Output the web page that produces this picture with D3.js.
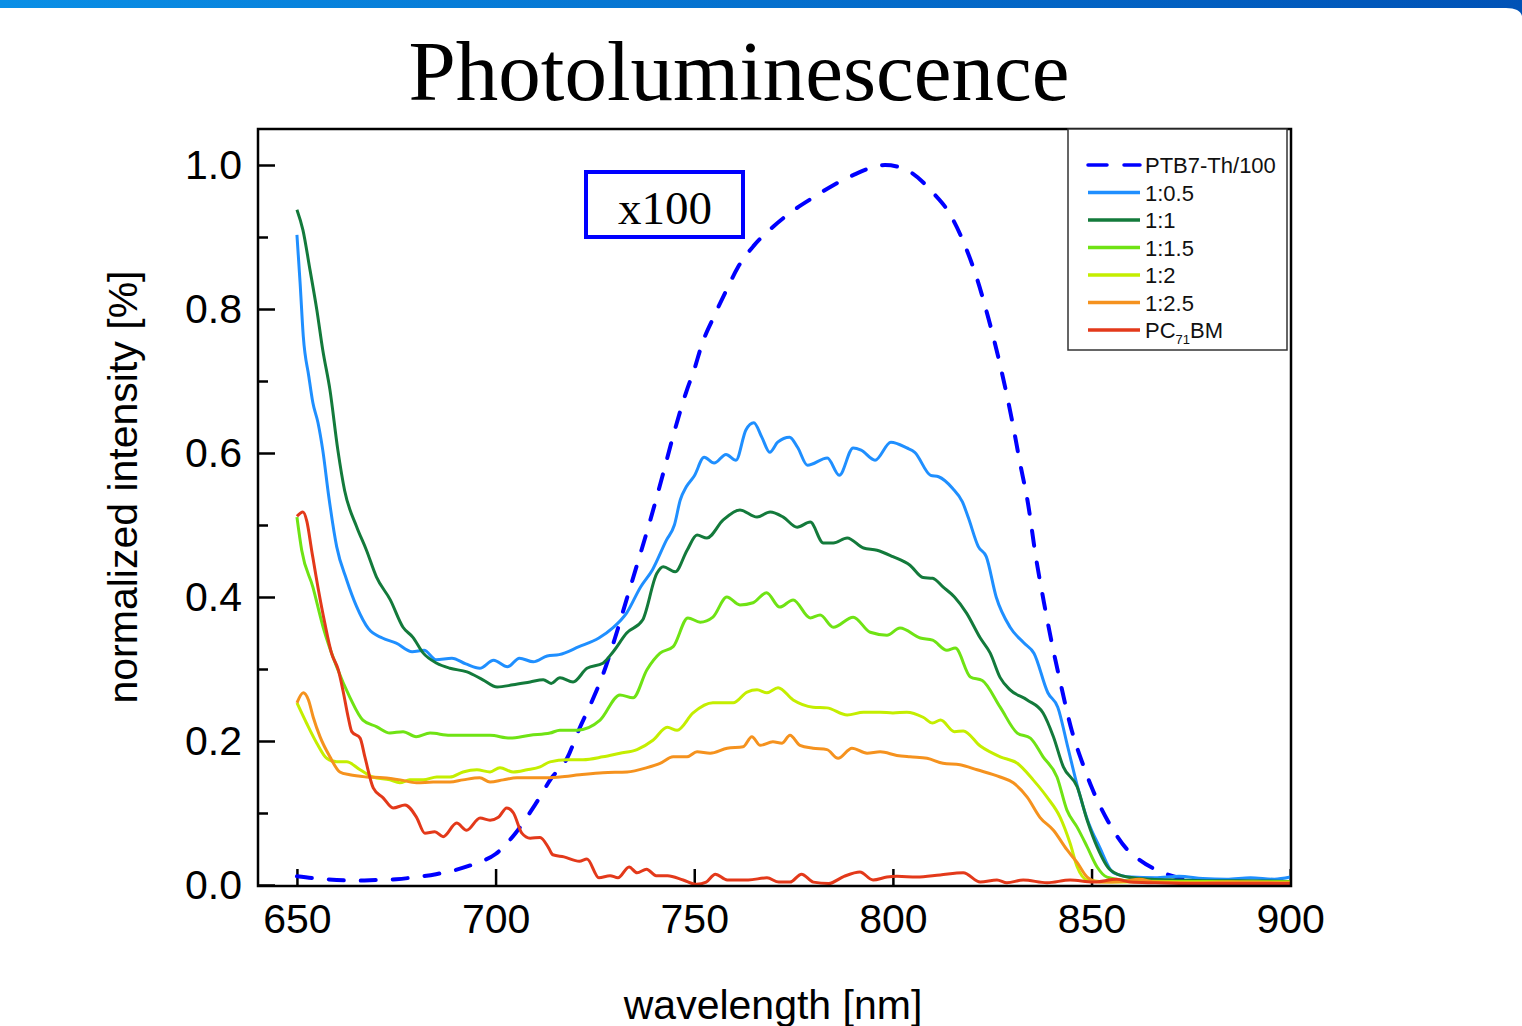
<!DOCTYPE html>
<html>
<head>
<meta charset="utf-8">
<title>Photoluminescence</title>
<style>
    html, body {margin: 0; padding: 0; background: #fff; overflow: hidden;}
    svg {display: block;}
</style>
</head>
<body>
<div id="chart"></div>
<script src="https://cdn.jsdelivr.net/npm/d3@7"></script>
<script>
// series: [wavelength nm, normalized intensity]
var ptb7 = [[650,0.012],[655,0.009],[660,0.007],[665,0.006],[670,0.007],[675,0.008],[680,0.011],[685,0.015],[690,0.021],[695,0.030],[700,0.043],[705,0.072],[710,0.112],[714,0.148],[718,0.176],[721,0.216],[724,0.252],[727,0.292],[730,0.342],[733,0.397],[736,0.452],[739,0.508],[742,0.568],[745,0.630],[748,0.685],[750,0.716],[752,0.752],[755,0.790],[758,0.825],[761,0.858],[765,0.888],[770,0.915],[775,0.937],[780,0.955],[785,0.972],[790,0.986],[795,0.997],[798,1.0],[801,0.998],[805,0.988],[810,0.962],[814,0.935],[818,0.890],[821,0.845],[824,0.788],[827,0.722],[830,0.645],[832,0.586],[834,0.530],[836,0.455],[838,0.393],[840,0.336],[842,0.285],[845,0.215],[848,0.165],[850,0.136],[854,0.090],[859,0.049],[862,0.035],[868,0.017],[875,0.007],[880,0.004],[890,0.002],[900,0.002]];

var r05 = [[650,0.903],[650.8,0.836],[651.6,0.762],[653,0.706],[654,0.670],[655.3,0.642],[656.5,0.604],[658,0.540],[660,0.470],[662.5,0.424],[665,0.387],[668,0.356],[671.5,0.343],[675,0.336],[679,0.324],[682,0.326],[685,0.313],[689,0.315],[692.5,0.307],[696,0.301],[699.5,0.312],[703,0.303],[706,0.315],[709.5,0.310],[713,0.318],[716,0.320],[721,0.331],[726,0.343],[729.5,0.357],[733,0.378],[736.5,0.414],[739.5,0.438],[743,0.479],[745,0.500],[746.5,0.535],[748,0.553],[750,0.568],[752.5,0.594],[755,0.586],[758,0.598],[760.5,0.590],[763,0.632],[765,0.642],[767,0.622],[769,0.601],[771,0.615],[774,0.622],[776,0.608],[778.5,0.583],[783.5,0.593],[786.5,0.569],[790,0.607],[792,0.604],[795.5,0.590],[799.5,0.615],[803.5,0.607],[805.5,0.601],[809.5,0.569],[811.5,0.567],[815,0.551],[817.5,0.532],[819,0.510],[821.5,0.470],[823.5,0.456],[826,0.400],[829.5,0.358],[833,0.336],[835.5,0.322],[839,0.267],[841.5,0.247],[844,0.192],[846.5,0.136],[849,0.090],[852,0.053],[855.5,0.017],[860,0.011],[866,0.010],[872,0.012],[878,0.009],[884,0.008],[890,0.010],[896,0.008],[900,0.011]];

var r1 = [[650,0.938],[651.5,0.910],[653.3,0.854],[655,0.799],[656.5,0.743],[658.3,0.688],[660.3,0.604],[662,0.548],[665,0.498],[667.5,0.465],[670,0.428],[673.5,0.396],[676.7,0.358],[679.2,0.344],[681.8,0.322],[685.2,0.308],[688.5,0.301],[692.8,0.296],[696.8,0.285],[700.4,0.275],[704.4,0.278],[708.7,0.282],[712,0.285],[714,0.280],[716.2,0.288],[719.5,0.282],[723,0.301],[727,0.308],[729.6,0.324],[733,0.350],[737,0.368],[740.6,0.433],[742.2,0.442],[745.2,0.435],[748.2,0.465],[750.7,0.486],[753.2,0.482],[757.3,0.507],[761.5,0.521],[765.8,0.511],[769.1,0.518],[772.4,0.511],[775.9,0.497],[779.2,0.504],[782.5,0.475],[785,0.475],[788.5,0.482],[792.6,0.468],[796,0.465],[800,0.456],[804.3,0.444],[807.6,0.427],[810,0.426],[812.6,0.414],[815.5,0.400],[818.5,0.378],[822,0.343],[824.5,0.322],[827,0.288],[829.5,0.271],[833.8,0.257],[837.8,0.239],[840.4,0.206],[842.9,0.164],[846.4,0.136],[848.9,0.090],[851.4,0.053],[854.7,0.021],[859,0.011],[865,0.008],[872,0.007],[880,0.006],[890,0.006],[900,0.005]];

var r15 = [[650,0.511],[651.2,0.465],[654,0.414],[656.6,0.358],[660,0.303],[663.3,0.261],[666.6,0.229],[670,0.220],[673.4,0.211],[676.7,0.213],[680,0.206],[683.5,0.211],[688.5,0.208],[693.6,0.208],[698.6,0.208],[703.6,0.204],[708.7,0.208],[713.7,0.211],[716.2,0.215],[720.5,0.215],[726.3,0.229],[731.3,0.264],[734.6,0.260],[738.1,0.299],[741.4,0.322],[744.7,0.331],[748.4,0.371],[751.5,0.365],[754.7,0.372],[758.2,0.400],[761.5,0.389],[764.8,0.392],[768.2,0.406],[771.5,0.386],[774.9,0.396],[779.2,0.371],[781.7,0.375],[785,0.358],[790,0.372],[794.3,0.351],[798.5,0.347],[801.8,0.357],[806.9,0.343],[810,0.340],[813.6,0.326],[815.7,0.329],[819.5,0.289],[822.5,0.284],[827,0.247],[831.3,0.211],[834.6,0.204],[837.8,0.178],[841.3,0.150],[843.8,0.104],[846.4,0.080],[848.9,0.053],[851.4,0.025],[853.9,0.011],[860,0.006],[870,0.005],[880,0.005],[890,0.004],[900,0.004]];

var r2 = [[650,0.253],[652.4,0.225],[655,0.197],[657.5,0.176],[660,0.171],[662.5,0.171],[665.9,0.160],[669.1,0.150],[673.4,0.146],[675.9,0.142],[678.4,0.146],[681.8,0.146],[685.2,0.150],[688.5,0.150],[691.8,0.157],[695.3,0.160],[698.6,0.157],[701.1,0.163],[704.4,0.157],[707.9,0.160],[711.2,0.164],[713.7,0.171],[718,0.174],[722,0.174],[727,0.178],[731.3,0.183],[735.6,0.188],[739.6,0.201],[743.2,0.219],[745.7,0.215],[749.7,0.239],[754.7,0.253],[759.8,0.253],[763.3,0.268],[765.8,0.271],[768.3,0.267],[771.1,0.274],[774.9,0.257],[779.9,0.247],[783.4,0.246],[788.5,0.236],[792.6,0.240],[796.8,0.240],[800,0.239],[803.5,0.240],[807.6,0.233],[810,0.225],[812,0.229],[815.5,0.213],[817.7,0.214],[822,0.193],[827,0.178],[831.3,0.169],[835.3,0.146],[838.8,0.122],[842.1,0.094],[844.6,0.058],[846.4,0.025],[848.9,0.007],[855,0.004],[865,0.005],[875,0.004],[885,0.004],[900,0.004]];

var r25 = [[650,0.253],[651.6,0.267],[652.9,0.257],[654.1,0.233],[655.8,0.206],[658.3,0.178],[660.8,0.157],[663.3,0.153],[667.5,0.150],[671.7,0.149],[676,0.146],[680.1,0.142],[684.3,0.143],[688.5,0.143],[691.8,0.146],[696,0.149],[698.6,0.143],[701.9,0.146],[705.4,0.149],[709.4,0.149],[713.7,0.149],[716.2,0.150],[721.2,0.153],[727,0.156],[733.1,0.157],[738.1,0.163],[741.4,0.169],[744.7,0.178],[748.2,0.178],[750.7,0.185],[754,0.183],[758.3,0.190],[762.3,0.192],[764.5,0.206],[766.6,0.194],[769.8,0.199],[772.1,0.197],[774.1,0.208],[776.6,0.194],[779.9,0.190],[783.4,0.188],[786.2,0.176],[789.7,0.190],[793.5,0.183],[796.8,0.185],[801,0.180],[804.3,0.178],[808.6,0.176],[812.6,0.169],[816.9,0.167],[821.2,0.160],[827,0.150],[830.3,0.142],[833.8,0.122],[837,0.094],[840.4,0.076],[843.8,0.049],[846.4,0.031],[848.9,0.011],[852,0.004],[858,0.005],[862,0.008],[866,0.004],[875,0.003],[885,0.004],[900,0.003]];

var pcbm = [[650,0.512],[651.5,0.518],[652.5,0.505],[653.7,0.465],[655.4,0.410],[657,0.364],[658.7,0.322],[660.4,0.299],[661.7,0.267],[662.9,0.233],[663.8,0.213],[665.9,0.204],[667.1,0.178],[669.2,0.135],[671.7,0.121],[674.2,0.107],[677.2,0.111],[680.1,0.094],[682.2,0.072],[684.7,0.074],[686.8,0.067],[690.2,0.086],[692.7,0.076],[696.1,0.093],[698.6,0.090],[700.7,0.094],[702.8,0.107],[704.5,0.100],[706.6,0.072],[708.7,0.065],[711.2,0.066],[713.3,0.052],[714.4,0.042],[717.2,0.039],[721.1,0.033],[723,0.036],[726,0.010],[728.8,0.013],[730.8,0.010],[733.6,0.025],[735.6,0.017],[738,0.022],[740.4,0.013],[743.3,0.013],[747.2,0.007],[750.6,0.001],[753,0.004],[755.3,0.015],[758.3,0.007],[763.6,0.007],[768.3,0.010],[771.3,0.004],[774.1,0.004],[777,0.015],[780,0.004],[783.8,0.002],[787.7,0.012],[791.7,0.018],[795,0.007],[798.5,0.011],[801,0.012],[806,0.011],[811.9,0.014],[817.7,0.017],[822,0.004],[826.2,0.007],[828.7,0.003],[832.8,0.007],[838.8,0.003],[844.6,0.007],[850.4,0.004],[856.4,0.008],[859.7,0.004],[866,0.003],[875,0.002],[885,0.002],[900,0.002]];

var seriesNames = ["PTB7-Th/100", "1:0.5", "1:1", "1:1.5", "1:2", "1:2.5", "PC71BM"];
var seriesData = [ptb7, r05, r1, r15, r2, r25, pcbm];
var seriesColors = ["#0000ff", "#1f8fff", "#137a3b", "#6fe314", "#c4ee00", "#f5921e", "#e3391a"];

var xTicks = [650, 700, 750, 800, 850, 900];
var yTicks = [0, 0.2, 0.4, 0.6, 0.8, 1.0];
var yMinorTicks = [0.1, 0.3, 0.5, 0.7, 0.9];

var W = 1522, H = 1026;
var box = {left: 258, right: 1291, top: 129, bottom: 886};

var svg = d3.select("#chart").append("svg")
    .attr("width", W)
    .attr("height", H);

// blue header strip
var grad = svg.append("defs").append("linearGradient")
    .attr("id", "bar").attr("x1", "0").attr("x2", "1");
grad.append("stop").attr("offset", "0").attr("stop-color", "#0a8fe6");
grad.append("stop").attr("offset", "1").attr("stop-color", "#0052b6");
svg.append("path")
    .attr("d", "M0,0H1522V16Q1520,8 1506,8H0Z")
    .attr("fill", "url(#bar)");

svg.select("defs").append("clipPath").attr("id", "plotclip")
    .append("rect")
    .attr("x", box.left).attr("y", box.top)
    .attr("width", box.right - box.left).attr("height", box.bottom - box.top);

var x = d3.scaleLinear().domain([640.2, 900.2]).range([box.left, box.right]);
var y = d3.scaleLinear().domain([-0.0014, 1.05]).range([box.bottom, box.top]);

// title
svg.append("text")
    .attr("x", 739).attr("y", 100)
    .attr("text-anchor", "middle")
    .style("font-family", "'Liberation Serif', 'Times New Roman', serif")
    .style("font-size", "85px")
    .text("Photoluminescence");

// axes, ticks pointing inward
var xAxis = svg.append("g")
    .attr("transform", "translate(0," + box.bottom + ")")
    .call(d3.axisBottom(x).tickValues(xTicks).tickSize(-17).tickSizeOuter(0).tickPadding(18).tickFormat(d3.format("d")));
var yAxis = svg.append("g")
    .attr("transform", "translate(" + box.left + ",0)")
    .call(d3.axisLeft(y).tickValues(yTicks).tickSize(-17).tickSizeOuter(0).tickPadding(16).tickFormat(d3.format(".1f")));
var yMinor = svg.append("g")
    .attr("transform", "translate(" + box.left + ",0)")
    .call(d3.axisLeft(y).tickValues(yMinorTicks).tickSize(-10).tickSizeOuter(0).tickFormat(""));

[xAxis, yAxis, yMinor].forEach(function(g) {
    g.select(".domain").remove();
    g.selectAll(".tick line").attr("stroke", "#000").attr("stroke-width", 2.5);
    g.selectAll(".tick text")
        .attr("fill", "#000")
        .style("font-family", "'Liberation Sans', Arial, sans-serif")
        .style("font-size", "41px");
});

// curves
var line = d3.line()
    .x(function(d) {return x(d[0]);})
    .y(function(d) {return y(d[1]);})
    .curve(d3.curveMonotoneX);

var plot = svg.append("g").attr("clip-path", "url(#plotclip)");
seriesData.forEach(function(s, i) {
    plot.append("path")
        .datum(s)
        .attr("d", line)
        .attr("fill", "none")
        .attr("stroke", seriesColors[i])
        .attr("stroke-width", i == 0 ? 4 : 3)
        .attr("stroke-linejoin", "round")
        .attr("stroke-linecap", i == 0 ? "round" : "butt")
        .attr("stroke-dasharray", i == 0 ? "15,17" : null);
});

// frame
svg.append("rect")
    .attr("x", box.left).attr("y", box.top)
    .attr("width", box.right - box.left).attr("height", box.bottom - box.top)
    .attr("fill", "none")
    .attr("stroke", "#000")
    .attr("stroke-width", 2.5);

// x100 note
svg.append("rect")
    .attr("x", 586).attr("y", 172).attr("width", 157).attr("height", 65)
    .attr("fill", "#fff")
    .attr("stroke", "#0000ff")
    .attr("stroke-width", 4);
svg.append("text")
    .attr("x", 665).attr("y", 224)
    .attr("text-anchor", "middle")
    .style("font-family", "'Liberation Serif', 'Times New Roman', serif")
    .style("font-size", "47px")
    .text("x100");

// axis titles
svg.append("text")
    .attr("x", 773).attr("y", 1019)
    .attr("text-anchor", "middle")
    .style("font-family", "'Liberation Sans', Arial, sans-serif")
    .style("font-size", "41px")
    .text("wavelength [nm]");
svg.append("text")
    .attr("transform", "translate(137,487) rotate(-90)")
    .attr("text-anchor", "middle")
    .style("font-family", "'Liberation Sans', Arial, sans-serif")
    .style("font-size", "41px")
    .text("normalized intensity [%]");

// legend
var legend = svg.append("g");
legend.append("rect")
    .attr("x", 1068).attr("y", box.top).attr("width", 219).attr("height", 221)
    .attr("fill", "#fff")
    .attr("stroke", "#333")
    .attr("stroke-width", 1.5);

var rows = legend.selectAll("g.row")
    .data(seriesNames)
    .enter().append("g")
    .attr("class", "row")
    .attr("transform", function(d, i) {return "translate(0," + (165 + i * 27.5) + ")";});

rows.append("line")
    .attr("x1", 1088).attr("x2", 1140)
    .attr("stroke", function(d, i) {return seriesColors[i];})
    .attr("stroke-width", 3.5)
    .attr("stroke-linecap", function(d, i) {return i == 0 ? "round" : "butt";})
    .attr("stroke-dasharray", function(d, i) {return i == 0 ? "19,17" : null;});

var labels = rows.append("text")
    .attr("x", 1145).attr("y", 8)
    .style("font-family", "'Liberation Sans', Arial, sans-serif")
    .style("font-size", "22px")
    .attr("fill", "#111");

labels.each(function(d) {
    var t = d3.select(this);
    if (d == "PC71BM") {
        t.append("tspan").text("PC");
        t.append("tspan").attr("dy", 6).style("font-size", "13px").text("71");
        t.append("tspan").attr("dy", -6).text("BM");
    } else {
        t.text(d);
    }
});
</script>
</body>
</html>
